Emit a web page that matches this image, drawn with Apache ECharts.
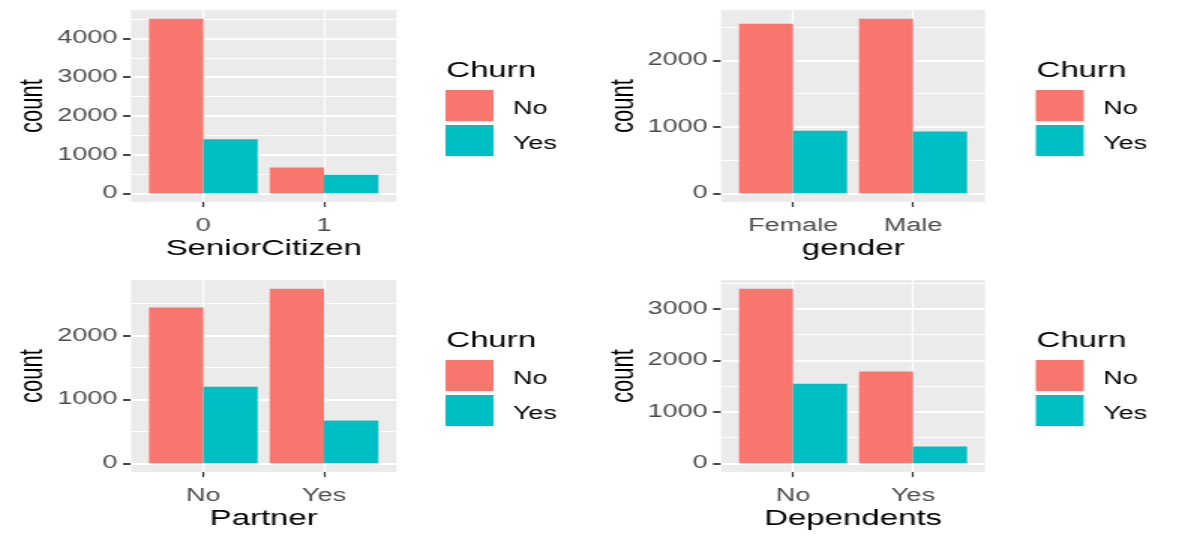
<!DOCTYPE html>
<html><head><meta charset="utf-8">
<script src="https://cdn.jsdelivr.net/npm/echarts@6/dist/echarts.min.js"></script>
<style>
html,body{margin:0;padding:0;background:#fff;overflow:hidden;width:1179px;height:539px;}
#chart{width:786px;height:539px;transform:scaleX(1.5);transform-origin:0 0;}
</style></head><body><div id="chart"></div>
<script>
// ---- data ----
const churnLevels = ['No', 'Yes'];
const churnColors = ['#F8766D', '#00BFC4'];

const seniorCats = ['0', '1'];
const seniorNo = [4508, 666];
const seniorYes = [1393, 476];
const seniorTicks = [0, 1000, 2000, 3000, 4000];
const seniorMinor = [500, 1500, 2500, 3500, 4500];

const genderCats = ['Female', 'Male'];
const genderNo = [2549, 2625];
const genderYes = [939, 930];
const genderTicks = [0, 1000, 2000];
const genderMinor = [500, 1500, 2500];

const partnerCats = ['No', 'Yes'];
const partnerNo = [2441, 2733];
const partnerYes = [1200, 669];
const partnerTicks = [0, 1000, 2000];
const partnerMinor = [500, 1500, 2500];

const dependentsCats = ['No', 'Yes'];
const dependentsNo = [3390, 1784];
const dependentsYes = [1543, 326];
const dependentsTicks = [0, 1000, 2000, 3000];
const dependentsMinor = [500, 1500, 2500, 3500];

const panels = [
  {xName: 'SeniorCitizen', cats: seniorCats, no: seniorNo, yes: seniorYes, ticks: seniorTicks, minor: seniorMinor},
  {xName: 'gender', cats: genderCats, no: genderNo, yes: genderYes, ticks: genderTicks, minor: genderMinor},
  {xName: 'Partner', cats: partnerCats, no: partnerNo, yes: partnerYes, ticks: partnerTicks, minor: partnerMinor},
  {xName: 'Dependents', cats: dependentsCats, no: dependentsNo, yes: dependentsYes, ticks: dependentsTicks, minor: dependentsMinor}
];

// ---- layout (unstretched coords; page is stretched 1.5x horizontally like the reference) ----
const FONT = "'Liberation Sans', Arial, sans-serif";
const gridPos = [
  {left: 87.3, top: 10, width: 177, height: 192},
  {left: 480.7, top: 10, width: 176, height: 192},
  {left: 87.3, top: 280, width: 177, height: 192},
  {left: 480.7, top: 280, width: 176, height: 192}
];
const legendPos = [
  {left: 292, top: 85}, {left: 685.5, top: 85},
  {left: 292, top: 355}, {left: 685.5, top: 355}
];

const grids = [], xAxes = [], yAxes = [], series = [], legends = [], titles = [];
panels.forEach((p, k) => {
  const g = gridPos[k];
  grids.push({left: g.left, top: g.top, width: g.width, height: g.height, show: true,
    backgroundColor: '#EBEBEB', borderWidth: 0, containLabel: false});
  const pos = p.cats.map((c, i) => i + 1);
  xAxes.push({
    type: 'value', gridIndex: k,
    min: () => 1 - 0.6, max: () => p.cats.length + 0.6,
    name: p.xName, nameLocation: 'middle', nameGap: 36,
    nameTextStyle: {fontSize: 22, color: '#000', fontFamily: FONT},
    axisLine: {show: false, onZero: false},
    axisTick: {show: true, length: 5, lineStyle: {color: '#333333', width: 1.2}, customValues: pos},
    axisLabel: {show: true, margin: 15, fontSize: 18, color: '#4D4D4D', fontFamily: FONT,
      customValues: pos, formatter: v => p.cats[Math.round(v) - 1]},
    splitLine: {show: false}
  });
  yAxes.push({
    type: 'value', gridIndex: k,
    min: v => -0.05 * v.max, max: v => 1.05 * v.max,
    name: 'count', nameLocation: 'middle', nameGap: 54,
    nameTextStyle: {fontSize: 22, color: '#000', fontFamily: FONT},
    axisLine: {show: false},
    axisTick: {show: true, length: 5.3, lineStyle: {color: '#333333', width: 1.8}, customValues: p.ticks},
    axisLabel: {show: true, margin: 9, fontSize: 18, color: '#4D4D4D', fontFamily: FONT,
      customValues: p.ticks, formatter: v => String(v)},
    splitLine: {show: false}
  });
  const gridLines = []
    .concat(p.ticks.map(v => ({yAxis: v, lineStyle: {width: 1.8}})))
    .concat(p.minor.map(v => ({yAxis: v, lineStyle: {width: 0.9}})))
    .concat(pos.map(v => ({xAxis: v, lineStyle: {width: 1.2}})));
  // panel grid lines (ggplot major/minor white lines), drawn beneath the bars
  series.push({
    type: 'line', name: 'grid' + k, xAxisIndex: k, yAxisIndex: k, data: [],
    silent: true, animation: false, z: 1,
    markLine: {silent: true, symbol: ['none', 'none'], label: {show: false}, z: 1,
      animation: false, lineStyle: {color: '#FFFFFF', type: 'solid'}, data: gridLines}
  });
  [p.no, p.yes].forEach((vals, s) => {
    series.push({
      type: 'bar', name: churnLevels[s], xAxisIndex: k, yAxisIndex: k,
      data: pos.map((x, i) => [x, vals[i]]),
      barWidth: '45%', barGap: '0%',
      itemStyle: {color: churnColors[s]},
      z: 2, animation: false
    });
  });
  const lp = legendPos[k];
  legends.push({
    data: churnLevels, left: lp.left, top: lp.top, orient: 'vertical',
    icon: 'rect', itemWidth: 32, itemHeight: 31, itemGap: 4, selectedMode: false,
    formatter: name => '{t|' + name + '}',
    textStyle: {fontSize: 18, color: '#000', fontFamily: FONT, padding: [0, 0, 0, 8],
      rich: {t: {fontSize: 18, color: '#000', fontFamily: FONT, padding: [7, 0, 0, 0]}}}
  });
  titles.push({
    text: 'Churn', left: lp.left + 5.5, top: lp.top - 25, padding: 0,
    textStyle: {fontSize: 22, color: '#000', fontWeight: 'normal', fontFamily: FONT}
  });
});

const chart = echarts.init(document.getElementById('chart'), null, {renderer: 'canvas'});
chart.setOption({
  animation: false,
  textStyle: {fontFamily: FONT},
  title: titles,
  legend: legends,
  grid: grids,
  xAxis: xAxes,
  yAxis: yAxes,
  series: series
});
</script></body></html>
